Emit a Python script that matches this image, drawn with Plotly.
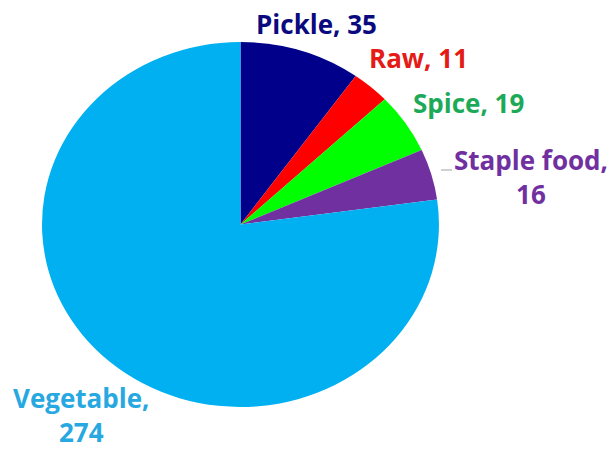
import plotly.graph_objects as go

categories = ["Pickle", "Raw", "Spice", "Staple food", "Vegetable"]
values = [35, 11, 19, 16, 274]
slice_colors = ["#00008B", "#FF0000", "#00FF00", "#7030A0", "#00B0F0"]
text_colors = ["#0A0A7E", "#E41B17", "#1DAA58", "#7030A0", "#27A8E0"]
two_line = ["Staple food", "Vegetable"]

# label anchor positions in paper coordinates (layout only): (x, y, yanchor)
label_pos = {
    "Pickle": (0.516, 0.948, "middle"),
    "Raw": (0.682, 0.871, "middle"),
    "Spice": (0.764, 0.772, "middle"),
    "Staple food": (0.866, 0.609, "middle"),
    "Vegetable": (0.132, 0.0, "bottom"),
}

fig = go.Figure(
    go.Pie(
        labels=categories,
        values=values,
        sort=False,
        direction="clockwise",
        rotation=0,
        marker=dict(colors=slice_colors, line=dict(width=0)),
        textinfo="none",
        hoverinfo="label+value",
        showlegend=False,
        domain=dict(x=[0.0946, 0.690], y=[0.0996, 0.907]),
    )
)

for c, v, col in zip(categories, values, text_colors):
    sep = ",<br>" if c in two_line else ", "
    x, y, ya = label_pos[c]
    fig.add_annotation(
        x=x, y=y, xref="paper", yref="paper",
        text=f"<b>{c}{sep}{v}</b>",
        showarrow=False,
        font=dict(family="Open Sans", size=26, color=col),
        xanchor="center", yanchor=ya, align="center",
    )

# small leader line next to the "Staple food" label
fig.add_shape(type="line", xref="paper", yref="paper",
              x0=441 / 613, x1=452 / 613, y0=1 - 170 / 452, y1=1 - 170 / 452,
              line=dict(color="#A0A0A0", width=1))

fig.update_layout(
    width=613,
    height=452,
    margin=dict(l=0, r=0, t=0, b=0),
    paper_bgcolor="white",
    plot_bgcolor="white",
)

# the reference pie is slightly wider than tall: stretch the pie layer horizontally
stretch = 198.5 / 182.5
cx = 240.5
post = (
    "var gd=document.getElementById('{plot_id}');"
    "function s(){var l=gd.querySelector('.pielayer');"
    f"if(l){{l.setAttribute('transform','matrix({stretch},0,0,1,{-(stretch - 1) * cx},0)');}}}}"
    "s();gd.on&&gd.on('plotly_afterplot',s);"
)

fig.write_html("out.html", post_script=post)
